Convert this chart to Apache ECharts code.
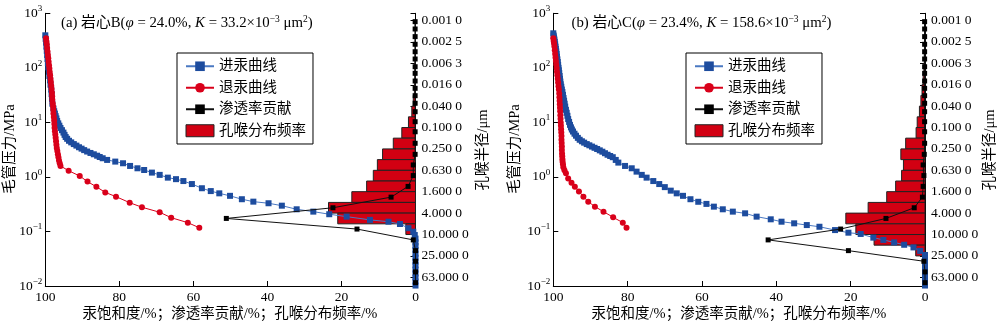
<!DOCTYPE html>
<html><head><meta charset="utf-8">
<script src="https://cdn.jsdelivr.net/npm/echarts@6/dist/echarts.min.js"></script>
<style>html,body{margin:0;padding:0;background:#fff}#c{width:1000px;height:326px}</style>
</head><body><div id="c"></div>
<script>
// ---------------- data ----------------
// Mercury intrusion curve, core B: [Hg saturation %, capillary pressure MPa]
const intrusionA = [[100,395],[99.9,340],[99.8,290],[99.7,245],[99.6,205],[99.5,172],[99.4,145],[99.3,122],[99.2,102],[99.0,85],[98.9,71],[98.7,59],[98.6,49],[98.4,40],[98.3,33],[98.2,27],[98.1,22],[97.8,18],[97.6,16],[97.4,14.5],[97.2,13],[97.0,11.8],[96.8,10.6],[96.5,9.6],[96.2,8.7],[95.9,7.9],[95.5,7.2],[95.1,6.5],[94.8,5.9],[94.5,5.4],[94.1,5.0],[93.6,4.6],[93.0,4.3],[92.3,4.0],[91.6,3.75],[90.9,3.5],[90.2,3.3],[89.5,3.1],[88.7,2.92],[87.8,2.75],[86.9,2.6],[86.0,2.45],[85.3,2.32],[84.5,2.2],[83.3,2.05],[81.1,1.91],[79.0,1.78],[77.1,1.59],[75.1,1.44],[73.3,1.34],[71.2,1.20],[69.1,1.09],[66.9,0.97],[64.7,0.91],[62.7,0.84],[60.4,0.74],[57.7,0.62],[55.3,0.55],[53.0,0.50],[50.1,0.45],[46.9,0.39],[43.8,0.352],[39.7,0.329],[36.1,0.297],[32.1,0.255],[27.6,0.231],[23.3,0.207],[18.6,0.187],[12.3,0.163],[7.3,0.151],[4.2,0.137],[1.9,0.115],[0.6,0.099],[0.2,0.086],[0,0.074],[0,0.063],[0,0.054],[0,0.046],[0,0.039],[0,0.033],[0,0.028],[0,0.024],[0,0.020],[0,0.017],[0,0.0143],[0,0.0121],[0,0.0102]];
// Mercury extrusion curve, core B
const extrusionA = [[99.8,350],[99.7,305],[99.6,270],[99.5,232],[99.4,200],[99.3,172],[99.2,150],[99.1,130],[99.0,112],[98.9,97],[98.8,84],[98.7,73],[98.6,63],[98.5,55],[98.4,47],[98.3,41],[98.2,35],[98.15,30],[98.1,26],[98.0,22.5],[97.9,19.5],[97.85,17],[97.8,14.5],[97.7,12.5],[97.6,10.8],[97.55,9.3],[97.5,8.0],[97.4,6.9],[97.3,6.0],[97.2,5.2],[97.1,4.5],[97.0,3.9],[96.9,3.4],[96.75,3.0],[96.6,2.6],[96.45,2.3],[96.3,2.0],[96.1,1.78],[95.9,1.59],[93.7,1.30],[90.7,1.04],[88.6,0.82],[86.2,0.66],[83.8,0.52],[80.9,0.435],[77.2,0.337],[73.9,0.278],[69.1,0.225],[66.0,0.179],[61.5,0.145],[58.4,0.117]];
// Mercury intrusion curve, core C
const intrusionB = [[100,430],[99.9,390],[99.8,360],[99.7,330],[99.6,300],[99.5,270],[99.4,245],[99.3,222],[99.2,200],[99.1,180],[99.0,160],[98.9,143],[98.8,128],[98.7,113],[98.6,100],[98.5,90],[98.4,80],[98.3,71],[98.2,63],[98.1,56],[98.0,50],[97.85,45],[97.7,40],[97.55,36],[97.4,32],[97.25,28],[97.1,25],[96.95,22],[96.8,19.5],[96.6,17],[96.4,15],[96.2,13.2],[96.0,11.5],[95.75,10.2],[95.5,9.0],[95.25,8.1],[95.0,7.4],[94.7,6.8],[94.3,6.2],[93.9,5.7],[93.4,5.2],[92.9,4.8],[92.3,4.5],[91.7,4.25],[91.0,4.0],[90.3,3.8],[89.6,3.6],[88.9,3.42],[88.2,3.25],[87.5,3.07],[86.8,2.9],[86.1,2.72],[85.4,2.55],[84.7,2.42],[84.0,2.3],[83.2,2.05],[82.5,1.83],[80.7,1.59],[78.9,1.44],[77.6,1.25],[76.2,1.09],[74.9,0.97],[73.1,0.84],[71.5,0.74],[70.0,0.65],[68.4,0.56],[66.8,0.50],[65.1,0.45],[63.1,0.39],[61.0,0.35],[58.8,0.32],[56.8,0.285],[54.4,0.255],[51.7,0.231],[48.4,0.215],[45.3,0.187],[41.5,0.167],[38.6,0.151],[35.2,0.141],[31.8,0.131],[28.4,0.122],[24.2,0.106],[20.6,0.095],[17.3,0.090],[13.9,0.077],[11.2,0.070],[8.3,0.063],[5.6,0.057],[3.1,0.051],[1.3,0.044],[0,0.037],[0,0.032],[0,0.027],[0,0.023],[0,0.0195],[0,0.0165],[0,0.014],[0,0.012],[0,0.0102]];
// Mercury extrusion curve, core C
const extrusionB = [[100,348],[99.9,310],[99.8,280],[99.7,245],[99.6,210],[99.5,180],[99.4,155],[99.3,134],[99.2,115],[99.1,99],[99.0,85],[98.9,73],[98.8,63],[98.7,54],[98.6,46],[98.5,40],[98.4,34],[98.35,29],[98.3,25],[98.25,21.5],[98.2,18.5],[98.15,16],[98.1,13.5],[98.05,11.6],[98.0,10],[97.95,8.7],[97.9,7.5],[97.85,6.5],[97.8,5.6],[97.8,4.8],[97.75,4.2],[97.7,3.6],[97.7,3.1],[97.65,2.7],[97.6,2.4],[97.55,2.1],[97.5,1.9],[97.4,1.7],[97.3,1.5],[97.0,1.32],[96.6,1.17],[96.0,0.94],[95.1,0.785],[94.2,0.66],[93.1,0.54],[91.9,0.435],[90.6,0.352],[88.8,0.285],[86.5,0.231],[83.9,0.182],[81.3,0.145],[80.3,0.117]];

// Pore-throat radius bins (um) and frequency (%)
const binEdges_um = [0.001,0.00158,0.00251,0.00398,0.00631,0.01,0.0158,0.0251,0.0398,0.0631,0.1,0.158,0.251,0.398,0.631,1,1.58,2.51,3.98,6.31,10,15.8,25.1,39.8,63.1,100];
const freqA = [0.1,0.1,0.1,0.15,0.2,0.2,0.3,0.6,1.0,1.9,3.7,6.0,8.9,10.3,11.4,13.2,17.2,23.5,21.0,2.6,0,0,0,0,0];
const freqB = [0.1,0.1,0.15,0.2,0.3,0.5,0.8,1.1,1.5,2.1,2.4,5.2,6.5,5.8,6.3,7.9,10.3,15.3,21.3,18.6,13.7,2.5,0,0,0];

// Permeability contribution points: radius (um) and contribution (%)
const permR_um = [0.00105,0.00144,0.0020,0.00278,0.00383,0.00524,0.0073,0.0097,0.0135,0.0185,0.0254,0.0352,0.0506,0.0778,0.120,0.197,0.317,0.50,0.79,1.26,2.0,3.16,5.0,7.9,12.6,20,31.6,50,79.4];
const permA = [0.1,0.1,0.1,0.1,0.1,0.1,0.1,0.1,0.1,0.1,0.1,0.1,0.1,0.1,0.1,0.1,0.1,0.6,0.6,2.0,6.6,22.3,51.1,15.8,0.6,0,0,0,0];
const permB = [0.1,0.1,0.1,0.1,0.1,0.1,0.1,0.1,0.1,0.1,0.1,0.1,0.1,0.1,0.1,0.1,0.2,0.5,0.3,0.5,0.7,2.9,10.5,22.7,42.2,20.6,0.3,0,0];

// Tick labels
const rTick_um = [0.001,0.0025,0.0063,0.016,0.04,0.1,0.25,0.63,1.6,4,10,25,63];
const rTickLabels = ['0.001 0','0.002 5','0.006 3','0.016 0','0.040 0','0.100 0','0.250 0','0.630 0','1.600 0','4.000 0','10.000 0','25.000 0','63.000 0'];
const legendNames = ['进汞曲线','退汞曲线','渗透率贡献','孔喉分布频率'];
const titlesTxt = [
  '(a) 岩心B({i|φ} = 24.0%, {i|K} = 33.2×10{sup|−3} μm{sup|2})',
  '(b) 岩心C({i|φ} = 23.4%, {i|K} = 158.6×10{sup|−3} μm{sup|2})'
];
const xName = '汞饱和度/%；渗透率贡献/%；孔喉分布频率/%';
const yNameL = '毛管压力/MPa';
const yNameR = '孔喉半径/μm';

// ---------------- chart ----------------
const FONT = "'Liberation Serif','Times New Roman','Noto Sans CJK SC',serif";
const R_MIN = -3.135, R_MAX = 1.962;
const rTickLog = rTick_um.map(v => Math.log10(v));
const chart = echarts.init(document.getElementById('c'), null, {renderer: 'canvas'});

const grids = [
  {left: 45.3, top: 13.3, width: 370.2, height: 272.7},
  {left: 553.3, top: 13.3, width: 371.7, height: 272.7}
];

function xAx(gi) {
  return {type: 'value', gridIndex: gi, min: 0, max: 100, interval: 20, inverse: true,
    axisLine: {show: true, onZero: false, lineStyle: {color: '#000', width: 1}},
    axisTick: {show: true, inside: true, length: 5, lineStyle: {color: '#000'}},
    axisLabel: {fontSize: 13.5, margin: 5, color: '#000', fontFamily: FONT},
    splitLine: {show: false}};
}
function yLeft(gi) {
  return {type: 'log', logBase: 10, gridIndex: gi, min: 0.01, max: 1000, position: 'left',
    axisLine: {show: true, onZero: false, lineStyle: {color: '#000', width: 1}},
    axisTick: {show: true, inside: true, length: 5, lineStyle: {color: '#000'}},
    minorTick: {show: false},
    axisLabel: {margin: 3, color: '#000', fontFamily: FONT,
      formatter: v => {
        const e = Math.round(Math.log10(v));
        return '{b|10}{s|' + (e < 0 ? '−' + (-e) : e) + '}';
      },
      rich: {b: {fontSize: 13.5, lineHeight: 18, fontFamily: FONT, color: '#000'},
             s: {fontSize: 9, lineHeight: 10, verticalAlign: 'top', fontFamily: FONT, color: '#000'}}},
    splitLine: {show: false}};
}
function yRight(gi) {
  return {type: 'value', gridIndex: gi, position: 'right', inverse: true, min: R_MIN, max: R_MAX,
    axisLine: {show: true, onZero: false, lineStyle: {color: '#000', width: 1}},
    axisTick: {show: true, inside: true, length: 5, lineStyle: {color: '#000'}, customValues: [R_MIN].concat(rTickLog)},
    axisLabel: {customValues: rTickLog, margin: 6, fontSize: 13.5, color: '#000', fontFamily: FONT,
      formatter: v => {
        let best = 0, d = Infinity;
        rTickLog.forEach((t, i) => { if (Math.abs(t - v) < d) { d = Math.abs(t - v); best = i; } });
        return rTickLabels[best];
      }},
    splitLine: {show: false}};
}

function histData(freq) {
  return freq.map((f, i) => [f, Math.log10(binEdges_um[i]), Math.log10(binEdges_um[i + 1])]);
}

function panelSeries(gi, intr, extr, freq, perm) {
  const xi = gi, yl = gi * 2, yr = gi * 2 + 1;
  return [
    {name: legendNames[3], type: 'custom', xAxisIndex: xi, yAxisIndex: yr, z: 1,
      itemStyle: {color: '#d20012', borderColor: '#222', borderWidth: 1},
      encode: {x: 0, y: [1, 2]},
      data: histData(freq),
      renderItem: (params, api) => {
        const v = api.value(0);
        if (!(v > 0)) return null;
        const p0 = api.coord([0, api.value(1)]);
        const p1 = api.coord([v, api.value(2)]);
        return {type: 'rect',
          shape: {x: Math.min(p0[0], p1[0]), y: Math.min(p0[1], p1[1]),
                  width: Math.abs(p1[0] - p0[0]), height: Math.abs(p1[1] - p0[1])},
          style: {fill: '#d20012', stroke: '#222', lineWidth: 1}};
      }},
    {name: legendNames[0], type: 'line', xAxisIndex: xi, yAxisIndex: yl, z: 3,
      symbol: 'rect', symbolSize: 6, showAllSymbol: true,
      lineStyle: {color: '#4a78c2', width: 1}, itemStyle: {color: '#1d4c9e'},
      data: intr},
    {name: legendNames[1], type: 'line', xAxisIndex: xi, yAxisIndex: yl, z: 4,
      symbol: 'circle', symbolSize: 6, showAllSymbol: true,
      lineStyle: {color: '#d9001a', width: 1}, itemStyle: {color: '#d9001a'},
      data: extr},
    {name: legendNames[2], type: 'line', xAxisIndex: xi, yAxisIndex: yr, z: 5,
      symbol: 'rect', symbolSize: 5, showAllSymbol: true,
      lineStyle: {color: '#111', width: 1}, itemStyle: {color: '#000'},
      data: perm.map((v, i) => [v, Math.log10(permR_um[i])])}
  ];
}

function legendAt(left) {
  return {left: left, top: 53, orient: 'vertical', itemWidth: 28, itemHeight: 12, itemGap: 7,
    padding: [6, 7, 6, 8], borderColor: '#000', borderWidth: 1, backgroundColor: '#fff',
    selectedMode: false,
    textStyle: {fontSize: 14.5, fontFamily: FONT, color: '#000'},
    data: [{name: legendNames[0]}, {name: legendNames[1]}, {name: legendNames[2]},
           {name: legendNames[3], icon: 'rect', itemStyle: {color: '#d20012', borderColor: '#222', borderWidth: 1}}]};
}

function txt(x, y, text, opts) {
  return Object.assign({type: 'text', x: x, y: y, silent: true,
    style: Object.assign({text: text, fontSize: 14.5, fontFamily: FONT, fill: '#000',
      align: 'center', verticalAlign: 'middle'}, (opts && opts.style) || {})},
    opts && opts.rotation !== undefined ? {rotation: opts.rotation} : {});
}
const titleRich = {
  i: {fontStyle: 'italic', fontSize: 14.8, fontFamily: FONT, lineHeight: 18},
  sup: {fontSize: 9.5, lineHeight: 10, verticalAlign: 'top', fontFamily: FONT}
};

chart.setOption({
  animation: false,
  backgroundColor: '#fff',
  textStyle: {fontFamily: FONT},
  grid: grids.map(g => Object.assign({outerBoundsMode: 'none', containLabel: false}, g)),
  xAxis: [xAx(0), xAx(1)],
  yAxis: [yLeft(0), yRight(0), yLeft(1), yRight(1)],
  legend: [legendAt(177), legendAt(686)],
  series: panelSeries(0, intrusionA, extrusionA, freqA, permA)
    .concat(panelSeries(1, intrusionB, extrusionB, freqB, permB)),
  graphic: [
    txt(61, 23.5, titlesTxt[0], {style: {align: 'left', fontSize: 14.8, lineHeight: 18, rich: titleRich}}),
    txt(571.5, 23.5, titlesTxt[1], {style: {align: 'left', fontSize: 14.8, lineHeight: 18, rich: titleRich}}),
    txt(230, 314, xName),
    txt(739, 314, xName),
    txt(10, 149, yNameL, {rotation: Math.PI / 2}),
    txt(515, 149, yNameL, {rotation: Math.PI / 2}),
    txt(483, 150, yNameR, {rotation: Math.PI / 2}),
    txt(990, 150, yNameR, {rotation: Math.PI / 2})
  ]
});
</script></body></html>
